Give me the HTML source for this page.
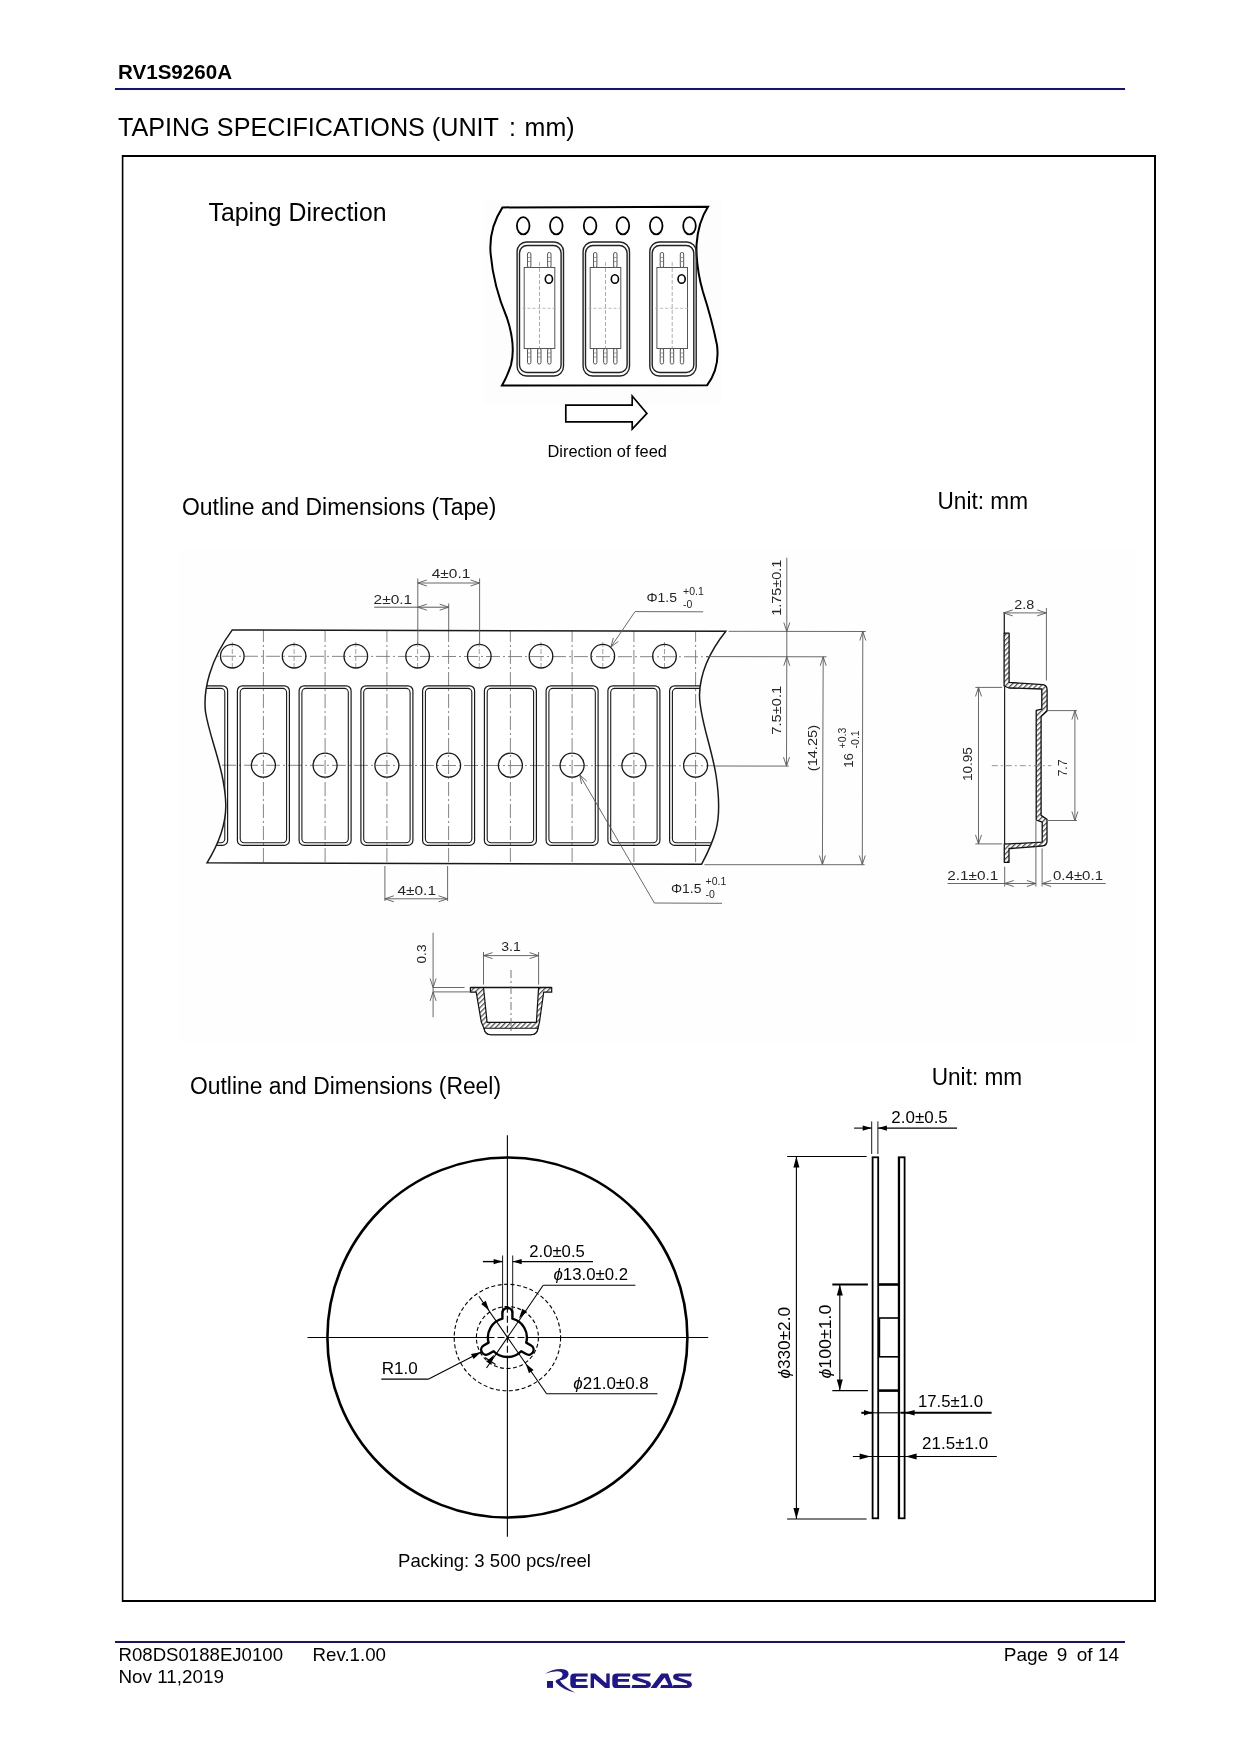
<!DOCTYPE html><html><head><meta charset="utf-8"><style>html,body{margin:0;padding:0;background:#fff;}body{width:1240px;height:1754px;position:relative;overflow:hidden;}svg{position:absolute;left:0;top:0;will-change:transform;}text{font-family:"Liberation Sans",sans-serif;}</style></head><body>
<svg width="1240" height="1754" viewBox="0 0 1240 1754">
<defs>
<pattern id="hatch" patternUnits="userSpaceOnUse" width="3.6" height="3.6" patternTransform="rotate(45)"><rect width="3.6" height="3.6" fill="#fff"/><rect x="0" y="0" width="1.3" height="3.6" fill="#555"/></pattern>
</defs>
<text x="118.0" y="79.0" font-size="21" fill="#000" textLength="114.0" lengthAdjust="spacingAndGlyphs" font-weight="bold" >RV1S9260A</text>
<rect x="115" y="88" width="1010" height="2" fill="#14108c"/>
<text x="118.0" y="136.2" font-size="25" fill="#000" textLength="381.0" lengthAdjust="spacingAndGlyphs" >TAPING SPECIFICATIONS (UNIT</text>
<text x="509.0" y="136.2" font-size="25" fill="#000" >:</text>
<text x="524.6" y="136.2" font-size="25" fill="#000" textLength="50.0" lengthAdjust="spacingAndGlyphs" >mm)</text>
<rect x="122.6" y="156" width="1032.4" height="1445" fill="none" stroke="#000" stroke-width="1.6"/>
<rect x="122" y="155" width="1034" height="2" fill="#000"/>
<rect x="122" y="1600" width="1034" height="2" fill="#000"/>
<rect x="1154" y="155" width="2" height="1447" fill="#000"/>
<rect x="115" y="1641" width="1010" height="2" fill="#14108c"/>
<text x="118.5" y="1661.0" font-size="19" fill="#000" textLength="164.5" lengthAdjust="spacingAndGlyphs" >R08DS0188EJ0100</text>
<text x="312.5" y="1661.0" font-size="19" fill="#000" textLength="73.5" lengthAdjust="spacingAndGlyphs" >Rev.1.00</text>
<text x="118.5" y="1682.8" font-size="19" fill="#000" textLength="105.5" lengthAdjust="spacingAndGlyphs" >Nov 11,2019</text>
<text x="1003.8" y="1661.0" font-size="19" fill="#000" >Page</text>
<text x="1056.8" y="1661.0" font-size="19" fill="#000" >9</text>
<text x="1076.8" y="1661.0" font-size="19" fill="#000" >of 14</text>
<text x="208.5" y="220.8" font-size="25" fill="#000" textLength="178.0" lengthAdjust="spacingAndGlyphs" >Taping Direction</text>
<text x="182.0" y="514.6" font-size="23" fill="#000" textLength="314.5" lengthAdjust="spacingAndGlyphs" >Outline and Dimensions (Tape)</text>
<text x="937.5" y="508.8" font-size="23" fill="#000" textLength="90.5" lengthAdjust="spacingAndGlyphs" >Unit: mm</text>
<text x="190.0" y="1093.5" font-size="23" fill="#000" textLength="311.0" lengthAdjust="spacingAndGlyphs" >Outline and Dimensions (Reel)</text>
<text x="931.7" y="1084.9" font-size="23" fill="#000" textLength="90.5" lengthAdjust="spacingAndGlyphs" >Unit: mm</text>
<text x="547.5" y="456.5" font-size="16.5" fill="#000" textLength="119.5" lengthAdjust="spacingAndGlyphs" >Direction of feed</text>
<text x="398.0" y="1566.8" font-size="18.5" fill="#000" textLength="193.0" lengthAdjust="spacingAndGlyphs" >Packing: 3 500 pcs/reel</text>
<rect x="484" y="201" width="238" height="202" fill="#fdfdfd"/>
<path d="M502.5,207.4 L708,206.7 Q698,222 696.5,245 Q696,268 703,292 Q712,320 717,345 Q720,368 707,385.3 L502,385.4 Q507,377 511,365 Q516,345 507,318 Q493,285 490.5,252 Q489,228 502.5,207.4 Z" fill="#fff" stroke="#000" stroke-width="2"/>
<ellipse cx="523.2" cy="225.8" rx="6.3" ry="8.6" fill="none" stroke="#000" stroke-width="1.8"/>
<ellipse cx="556.3" cy="225.8" rx="6.3" ry="8.6" fill="none" stroke="#000" stroke-width="1.8"/>
<ellipse cx="590.1" cy="225.8" rx="6.3" ry="8.6" fill="none" stroke="#000" stroke-width="1.8"/>
<ellipse cx="622.9" cy="225.8" rx="6.3" ry="8.6" fill="none" stroke="#000" stroke-width="1.8"/>
<ellipse cx="656.2" cy="225.8" rx="6.3" ry="8.6" fill="none" stroke="#000" stroke-width="1.8"/>
<ellipse cx="689.5" cy="225.8" rx="6.3" ry="8.6" fill="none" stroke="#000" stroke-width="1.8"/>
<rect x="517.1" y="242" width="46.4" height="134" rx="9.5" fill="none" stroke="#222" stroke-width="1.4"/>
<rect x="519.5" y="245.5" width="41.6" height="127" rx="7.5" fill="none" stroke="#222" stroke-width="1.4"/>
<rect x="524.2" y="267.5" width="30.6" height="81" fill="none" stroke="#555" stroke-width="1"/>
<line x1="539.5" y1="262" x2="539.5" y2="362" stroke="#999" stroke-width="0.8" stroke-dasharray="4,2"/>
<line x1="522.5" y1="308.3" x2="556.5" y2="308.3" stroke="#aaa" stroke-width="0.8" stroke-dasharray="3,2"/>
<rect x="527.5" y="252.5" width="3.4" height="15" rx="1.5" fill="#fff" stroke="#444" stroke-width="0.9"/>
<line x1="527.5" y1="257.5" x2="530.9" y2="257.5" stroke="#777" stroke-width="0.7"/>
<line x1="527.5" y1="261.5" x2="530.9" y2="261.5" stroke="#777" stroke-width="0.7"/>
<rect x="547.6" y="252.5" width="3.4" height="15" rx="1.5" fill="#fff" stroke="#444" stroke-width="0.9"/>
<line x1="547.6" y1="257.5" x2="551.0" y2="257.5" stroke="#777" stroke-width="0.7"/>
<line x1="547.6" y1="261.5" x2="551.0" y2="261.5" stroke="#777" stroke-width="0.7"/>
<rect x="527.5" y="348.5" width="3.4" height="15.5" rx="1.5" fill="#fff" stroke="#444" stroke-width="0.9"/>
<line x1="527.5" y1="353" x2="530.9" y2="353" stroke="#777" stroke-width="0.7"/>
<line x1="527.5" y1="357" x2="530.9" y2="357" stroke="#777" stroke-width="0.7"/>
<rect x="537.6" y="348.5" width="3.4" height="15.5" rx="1.5" fill="#fff" stroke="#444" stroke-width="0.9"/>
<line x1="537.6" y1="353" x2="541.0" y2="353" stroke="#777" stroke-width="0.7"/>
<line x1="537.6" y1="357" x2="541.0" y2="357" stroke="#777" stroke-width="0.7"/>
<rect x="547.6" y="348.5" width="3.4" height="15.5" rx="1.5" fill="#fff" stroke="#444" stroke-width="0.9"/>
<line x1="547.6" y1="353" x2="551.0" y2="353" stroke="#777" stroke-width="0.7"/>
<line x1="547.6" y1="357" x2="551.0" y2="357" stroke="#777" stroke-width="0.7"/>
<ellipse cx="548.9" cy="279" rx="3.6" ry="4.3" fill="none" stroke="#000" stroke-width="1.6"/>
<rect x="583.1" y="242" width="46.4" height="134" rx="9.5" fill="none" stroke="#222" stroke-width="1.4"/>
<rect x="585.5" y="245.5" width="41.6" height="127" rx="7.5" fill="none" stroke="#222" stroke-width="1.4"/>
<rect x="590.2" y="267.5" width="30.6" height="81" fill="none" stroke="#555" stroke-width="1"/>
<line x1="605.5" y1="262" x2="605.5" y2="362" stroke="#999" stroke-width="0.8" stroke-dasharray="4,2"/>
<line x1="588.5" y1="308.3" x2="622.5" y2="308.3" stroke="#aaa" stroke-width="0.8" stroke-dasharray="3,2"/>
<rect x="593.5" y="252.5" width="3.4" height="15" rx="1.5" fill="#fff" stroke="#444" stroke-width="0.9"/>
<line x1="593.5" y1="257.5" x2="596.9" y2="257.5" stroke="#777" stroke-width="0.7"/>
<line x1="593.5" y1="261.5" x2="596.9" y2="261.5" stroke="#777" stroke-width="0.7"/>
<rect x="613.6" y="252.5" width="3.4" height="15" rx="1.5" fill="#fff" stroke="#444" stroke-width="0.9"/>
<line x1="613.6" y1="257.5" x2="617.0" y2="257.5" stroke="#777" stroke-width="0.7"/>
<line x1="613.6" y1="261.5" x2="617.0" y2="261.5" stroke="#777" stroke-width="0.7"/>
<rect x="593.5" y="348.5" width="3.4" height="15.5" rx="1.5" fill="#fff" stroke="#444" stroke-width="0.9"/>
<line x1="593.5" y1="353" x2="596.9" y2="353" stroke="#777" stroke-width="0.7"/>
<line x1="593.5" y1="357" x2="596.9" y2="357" stroke="#777" stroke-width="0.7"/>
<rect x="603.6" y="348.5" width="3.4" height="15.5" rx="1.5" fill="#fff" stroke="#444" stroke-width="0.9"/>
<line x1="603.6" y1="353" x2="607.0" y2="353" stroke="#777" stroke-width="0.7"/>
<line x1="603.6" y1="357" x2="607.0" y2="357" stroke="#777" stroke-width="0.7"/>
<rect x="613.6" y="348.5" width="3.4" height="15.5" rx="1.5" fill="#fff" stroke="#444" stroke-width="0.9"/>
<line x1="613.6" y1="353" x2="617.0" y2="353" stroke="#777" stroke-width="0.7"/>
<line x1="613.6" y1="357" x2="617.0" y2="357" stroke="#777" stroke-width="0.7"/>
<ellipse cx="614.9" cy="279" rx="3.6" ry="4.3" fill="none" stroke="#000" stroke-width="1.6"/>
<rect x="649.8" y="242" width="46.4" height="134" rx="9.5" fill="none" stroke="#222" stroke-width="1.4"/>
<rect x="652.2" y="245.5" width="41.6" height="127" rx="7.5" fill="none" stroke="#222" stroke-width="1.4"/>
<rect x="656.9" y="267.5" width="30.6" height="81" fill="none" stroke="#555" stroke-width="1"/>
<line x1="672.2" y1="262" x2="672.2" y2="362" stroke="#999" stroke-width="0.8" stroke-dasharray="4,2"/>
<line x1="655.2" y1="308.3" x2="689.2" y2="308.3" stroke="#aaa" stroke-width="0.8" stroke-dasharray="3,2"/>
<rect x="660.2" y="252.5" width="3.4" height="15" rx="1.5" fill="#fff" stroke="#444" stroke-width="0.9"/>
<line x1="660.2" y1="257.5" x2="663.6" y2="257.5" stroke="#777" stroke-width="0.7"/>
<line x1="660.2" y1="261.5" x2="663.6" y2="261.5" stroke="#777" stroke-width="0.7"/>
<rect x="680.3" y="252.5" width="3.4" height="15" rx="1.5" fill="#fff" stroke="#444" stroke-width="0.9"/>
<line x1="680.3" y1="257.5" x2="683.7" y2="257.5" stroke="#777" stroke-width="0.7"/>
<line x1="680.3" y1="261.5" x2="683.7" y2="261.5" stroke="#777" stroke-width="0.7"/>
<rect x="660.2" y="348.5" width="3.4" height="15.5" rx="1.5" fill="#fff" stroke="#444" stroke-width="0.9"/>
<line x1="660.2" y1="353" x2="663.6" y2="353" stroke="#777" stroke-width="0.7"/>
<line x1="660.2" y1="357" x2="663.6" y2="357" stroke="#777" stroke-width="0.7"/>
<rect x="670.3" y="348.5" width="3.4" height="15.5" rx="1.5" fill="#fff" stroke="#444" stroke-width="0.9"/>
<line x1="670.3" y1="353" x2="673.7" y2="353" stroke="#777" stroke-width="0.7"/>
<line x1="670.3" y1="357" x2="673.7" y2="357" stroke="#777" stroke-width="0.7"/>
<rect x="680.3" y="348.5" width="3.4" height="15.5" rx="1.5" fill="#fff" stroke="#444" stroke-width="0.9"/>
<line x1="680.3" y1="353" x2="683.7" y2="353" stroke="#777" stroke-width="0.7"/>
<line x1="680.3" y1="357" x2="683.7" y2="357" stroke="#777" stroke-width="0.7"/>
<ellipse cx="681.6" cy="279" rx="3.6" ry="4.3" fill="none" stroke="#000" stroke-width="1.6"/>
<polygon points="565.8,405.1 632.2,405.1 632.2,396 646.9,413.4 632.2,429 632.2,421.8 565.8,421.8" fill="#fff" stroke="#000" stroke-width="1.7" stroke-linejoin="miter"/>
<rect x="179" y="548" width="957" height="495" fill="#fefefe"/>
<clipPath id="tapeclip"><path d="M232.3,629.9 L725.8,631.3 C711,650 700,672 699.5,695 C699.5,718 711,745 716,775 C719,795 720,815 716,830 C712,845 706,856 701.6,864.2 L207,862.8 C218,845 226,825 225.8,805 C225,770 210,740 205.5,712 C203,690 210,660 232.3,629.9 Z"/></clipPath>
<path d="M232.3,629.9 L725.8,631.3 C711,650 700,672 699.5,695 C699.5,718 711,745 716,775 C719,795 720,815 716,830 C712,845 706,856 701.6,864.2 L207,862.8 C218,845 226,825 225.8,805 C225,770 210,740 205.5,712 C203,690 210,660 232.3,629.9 Z" fill="#fff" stroke="none"/>
<g clip-path="url(#tapeclip)">
<line x1="201.6" y1="628" x2="201.6" y2="866" stroke="#777" stroke-width="0.9" stroke-dasharray="14,3,2,3"/>
<line x1="263.4" y1="628" x2="263.4" y2="866" stroke="#777" stroke-width="0.9" stroke-dasharray="14,3,2,3"/>
<line x1="325.1" y1="628" x2="325.1" y2="866" stroke="#777" stroke-width="0.9" stroke-dasharray="14,3,2,3"/>
<line x1="386.9" y1="628" x2="386.9" y2="866" stroke="#777" stroke-width="0.9" stroke-dasharray="14,3,2,3"/>
<line x1="448.6" y1="628" x2="448.6" y2="866" stroke="#777" stroke-width="0.9" stroke-dasharray="14,3,2,3"/>
<line x1="510.4" y1="628" x2="510.4" y2="866" stroke="#777" stroke-width="0.9" stroke-dasharray="14,3,2,3"/>
<line x1="572.1" y1="628" x2="572.1" y2="866" stroke="#777" stroke-width="0.9" stroke-dasharray="14,3,2,3"/>
<line x1="633.9" y1="628" x2="633.9" y2="866" stroke="#777" stroke-width="0.9" stroke-dasharray="14,3,2,3"/>
<line x1="695.6" y1="628" x2="695.6" y2="866" stroke="#777" stroke-width="0.9" stroke-dasharray="14,3,2,3"/>
<line x1="200" y1="656.2" x2="730" y2="656.8000000000001" stroke="#777" stroke-width="0.9" stroke-dasharray="14,3,2,3"/>
<line x1="200" y1="765.2" x2="730" y2="765.8000000000001" stroke="#777" stroke-width="0.9" stroke-dasharray="14,3,2,3"/>
<line x1="232.3" y1="642" x2="232.3" y2="670" stroke="#888" stroke-width="0.8" stroke-dasharray="5,2"/>
<line x1="294.1" y1="642" x2="294.1" y2="670" stroke="#888" stroke-width="0.8" stroke-dasharray="5,2"/>
<line x1="355.8" y1="642" x2="355.8" y2="670" stroke="#888" stroke-width="0.8" stroke-dasharray="5,2"/>
<line x1="417.6" y1="642" x2="417.6" y2="670" stroke="#888" stroke-width="0.8" stroke-dasharray="5,2"/>
<line x1="479.3" y1="642" x2="479.3" y2="670" stroke="#888" stroke-width="0.8" stroke-dasharray="5,2"/>
<line x1="541.0" y1="642" x2="541.0" y2="670" stroke="#888" stroke-width="0.8" stroke-dasharray="5,2"/>
<line x1="602.8" y1="642" x2="602.8" y2="670" stroke="#888" stroke-width="0.8" stroke-dasharray="5,2"/>
<line x1="664.5" y1="642" x2="664.5" y2="670" stroke="#888" stroke-width="0.8" stroke-dasharray="5,2"/>
<rect x="175.6" y="685.8" width="52" height="159.6" rx="5" fill="none" stroke="#1a1a1a" stroke-width="1.2"/>
<rect x="178.4" y="688.4" width="46.4" height="154.4" rx="4" fill="none" stroke="#1a1a1a" stroke-width="1.1"/>
<rect x="237.4" y="685.8" width="52" height="159.6" rx="5" fill="none" stroke="#1a1a1a" stroke-width="1.2"/>
<rect x="240.2" y="688.4" width="46.4" height="154.4" rx="4" fill="none" stroke="#1a1a1a" stroke-width="1.1"/>
<rect x="299.1" y="685.8" width="52" height="159.6" rx="5" fill="none" stroke="#1a1a1a" stroke-width="1.2"/>
<rect x="301.9" y="688.4" width="46.4" height="154.4" rx="4" fill="none" stroke="#1a1a1a" stroke-width="1.1"/>
<rect x="360.9" y="685.8" width="52" height="159.6" rx="5" fill="none" stroke="#1a1a1a" stroke-width="1.2"/>
<rect x="363.7" y="688.4" width="46.4" height="154.4" rx="4" fill="none" stroke="#1a1a1a" stroke-width="1.1"/>
<rect x="422.6" y="685.8" width="52" height="159.6" rx="5" fill="none" stroke="#1a1a1a" stroke-width="1.2"/>
<rect x="425.4" y="688.4" width="46.4" height="154.4" rx="4" fill="none" stroke="#1a1a1a" stroke-width="1.1"/>
<rect x="484.4" y="685.8" width="52" height="159.6" rx="5" fill="none" stroke="#1a1a1a" stroke-width="1.2"/>
<rect x="487.2" y="688.4" width="46.4" height="154.4" rx="4" fill="none" stroke="#1a1a1a" stroke-width="1.1"/>
<rect x="546.1" y="685.8" width="52" height="159.6" rx="5" fill="none" stroke="#1a1a1a" stroke-width="1.2"/>
<rect x="548.9" y="688.4" width="46.4" height="154.4" rx="4" fill="none" stroke="#1a1a1a" stroke-width="1.1"/>
<rect x="607.9" y="685.8" width="52" height="159.6" rx="5" fill="none" stroke="#1a1a1a" stroke-width="1.2"/>
<rect x="610.7" y="688.4" width="46.4" height="154.4" rx="4" fill="none" stroke="#1a1a1a" stroke-width="1.1"/>
<rect x="669.6" y="685.8" width="52" height="159.6" rx="5" fill="none" stroke="#1a1a1a" stroke-width="1.2"/>
<rect x="672.4" y="688.4" width="46.4" height="154.4" rx="4" fill="none" stroke="#1a1a1a" stroke-width="1.1"/>
<circle cx="201.6" cy="765.2" r="12" fill="none" stroke="#1a1a1a" stroke-width="1.3"/>
<circle cx="263.4" cy="765.2" r="12" fill="none" stroke="#1a1a1a" stroke-width="1.3"/>
<circle cx="325.1" cy="765.2" r="12" fill="none" stroke="#1a1a1a" stroke-width="1.3"/>
<circle cx="386.9" cy="765.2" r="12" fill="none" stroke="#1a1a1a" stroke-width="1.3"/>
<circle cx="448.6" cy="765.2" r="12" fill="none" stroke="#1a1a1a" stroke-width="1.3"/>
<circle cx="510.4" cy="765.2" r="12" fill="none" stroke="#1a1a1a" stroke-width="1.3"/>
<circle cx="572.1" cy="765.2" r="12" fill="none" stroke="#1a1a1a" stroke-width="1.3"/>
<circle cx="633.9" cy="765.2" r="12" fill="none" stroke="#1a1a1a" stroke-width="1.3"/>
<circle cx="695.6" cy="765.2" r="12" fill="none" stroke="#1a1a1a" stroke-width="1.3"/>
<circle cx="232.3" cy="656.2" r="11.8" fill="none" stroke="#1a1a1a" stroke-width="1.3"/>
<circle cx="294.1" cy="656.2" r="11.8" fill="none" stroke="#1a1a1a" stroke-width="1.3"/>
<circle cx="355.8" cy="656.2" r="11.8" fill="none" stroke="#1a1a1a" stroke-width="1.3"/>
<circle cx="417.6" cy="656.2" r="11.8" fill="none" stroke="#1a1a1a" stroke-width="1.3"/>
<circle cx="479.3" cy="656.2" r="11.8" fill="none" stroke="#1a1a1a" stroke-width="1.3"/>
<circle cx="541.0" cy="656.2" r="11.8" fill="none" stroke="#1a1a1a" stroke-width="1.3"/>
<circle cx="602.8" cy="656.2" r="11.8" fill="none" stroke="#1a1a1a" stroke-width="1.3"/>
<circle cx="664.5" cy="656.2" r="11.8" fill="none" stroke="#1a1a1a" stroke-width="1.3"/>
</g>
<path d="M232.3,629.9 L725.8,631.3 C711,650 700,672 699.5,695 C699.5,718 711,745 716,775 C719,795 720,815 716,830 C712,845 706,856 701.6,864.2 L207,862.8 C218,845 226,825 225.8,805 C225,770 210,740 205.5,712 C203,690 210,660 232.3,629.9 Z" fill="none" stroke="#1a1a1a" stroke-width="1.5"/>
<line x1="417.8" y1="578.5" x2="417.8" y2="645.0" stroke="#585858" stroke-width="0.9" />
<line x1="479.6" y1="578.5" x2="479.6" y2="645.0" stroke="#585858" stroke-width="0.9" />
<line x1="417.8" y1="583.0" x2="479.6" y2="583.0" stroke="#585858" stroke-width="0.9" />
<polyline points="426.8,580.0 417.8,583.0 426.8,586.0" fill="none" stroke="#585858" stroke-width="0.9"/>
<polyline points="470.6,586.0 479.6,583.0 470.6,580.0" fill="none" stroke="#585858" stroke-width="0.9"/>
<text x="431.8" y="578.2" font-size="12.5" fill="#262626" textLength="38.5" lengthAdjust="spacingAndGlyphs" >4±0.1</text>
<line x1="448.7" y1="603.5" x2="448.7" y2="630.0" stroke="#585858" stroke-width="0.9" />
<line x1="374.2" y1="607.2" x2="448.7" y2="607.2" stroke="#585858" stroke-width="1.0" />
<polyline points="426.8,604.2 417.8,607.2 426.8,610.2" fill="none" stroke="#585858" stroke-width="0.9"/>
<polyline points="439.7,610.2 448.7,607.2 439.7,604.2" fill="none" stroke="#585858" stroke-width="0.9"/>
<text x="373.6" y="603.6" font-size="12.5" fill="#262626" textLength="38.5" lengthAdjust="spacingAndGlyphs" >2±0.1</text>
<line x1="635.0" y1="611.6" x2="703.2" y2="611.8" stroke="#585858" stroke-width="0.9" />
<line x1="635.0" y1="611.6" x2="610.8" y2="647.1" stroke="#585858" stroke-width="0.9" />
<polyline points="613.4,638.0 610.8,647.1 618.3,641.4" fill="none" stroke="#585858" stroke-width="0.9"/>
<text x="646.5" y="602.3" font-size="12.5" fill="#262626" textLength="30.5" lengthAdjust="spacingAndGlyphs" >Φ1.5</text>
<text x="683.0" y="594.7" font-size="10.5" fill="#262626" >+0.1</text>
<text x="683.0" y="607.6" font-size="10.5" fill="#262626" >-0</text>
<line x1="728.5" y1="631.3" x2="865.8" y2="631.5" stroke="#585858" stroke-width="0.9" />
<line x1="706.0" y1="656.6" x2="826.5" y2="656.8" stroke="#585858" stroke-width="0.9" />
<line x1="714.8" y1="766.0" x2="788.8" y2="766.1" stroke="#585858" stroke-width="0.9" />
<line x1="704.4" y1="864.7" x2="864.6" y2="864.7" stroke="#585858" stroke-width="0.9" />
<line x1="786.8" y1="557.7" x2="786.8" y2="656.8" stroke="#585858" stroke-width="0.9" />
<polyline points="783.8,622.5 786.8,631.5 789.8,622.5" fill="none" stroke="#585858" stroke-width="0.9"/>
<line x1="786.8" y1="656.8" x2="786.5" y2="766.1" stroke="#585858" stroke-width="0.9" />
<polyline points="789.8,665.8 786.8,656.8 783.8,665.8" fill="none" stroke="#585858" stroke-width="0.9"/>
<polyline points="783.5,757.1 786.5,766.1 789.5,757.1" fill="none" stroke="#585858" stroke-width="0.9"/>
<line x1="823.2" y1="656.8" x2="822.4" y2="864.5" stroke="#585858" stroke-width="0.9" />
<polyline points="826.2,665.8 823.2,656.8 820.2,665.8" fill="none" stroke="#585858" stroke-width="0.9"/>
<polyline points="819.4,855.5 822.4,864.5 825.4,855.5" fill="none" stroke="#585858" stroke-width="0.9"/>
<line x1="862.8" y1="631.5" x2="862.3" y2="864.5" stroke="#585858" stroke-width="0.9" />
<polyline points="865.8,640.5 862.8,631.5 859.8,640.5" fill="none" stroke="#585858" stroke-width="0.9"/>
<polyline points="859.3,855.5 862.3,864.5 865.3,855.5" fill="none" stroke="#585858" stroke-width="0.9"/>
<text x="781.5" y="615.8" font-size="13" fill="#262626" textLength="56.0" lengthAdjust="spacingAndGlyphs" transform="rotate(-90 781.5 615.8)" >1.75±0.1</text>
<text x="780.6" y="734.7" font-size="13" fill="#262626" textLength="49.0" lengthAdjust="spacingAndGlyphs" transform="rotate(-90 780.6 734.7)" >7.5±0.1</text>
<text x="817.5" y="771.2" font-size="13" fill="#262626" textLength="46.2" lengthAdjust="spacingAndGlyphs" transform="rotate(-90 817.5 771.2)" >(14.25)</text>
<text x="853.0" y="767.8" font-size="13" fill="#262626" textLength="14.8" lengthAdjust="spacingAndGlyphs" transform="rotate(-90 853.0 767.8)" >16</text>
<text x="846.2" y="748.4" font-size="10.5" fill="#262626" transform="rotate(-90 846.2 748.4)" >+0.3</text>
<text x="859.3" y="748.4" font-size="10.5" fill="#262626" transform="rotate(-90 859.3 748.4)" >-0.1</text>
<line x1="384.9" y1="866.0" x2="384.9" y2="901.0" stroke="#585858" stroke-width="0.9" />
<line x1="447.6" y1="866.0" x2="447.6" y2="901.0" stroke="#585858" stroke-width="0.9" />
<line x1="384.9" y1="898.8" x2="447.6" y2="898.8" stroke="#585858" stroke-width="0.9" />
<polyline points="393.9,895.8 384.9,898.8 393.9,901.8" fill="none" stroke="#585858" stroke-width="0.9"/>
<polyline points="438.6,901.8 447.6,898.8 438.6,895.8" fill="none" stroke="#585858" stroke-width="0.9"/>
<text x="397.5" y="894.8" font-size="12.5" fill="#262626" textLength="38.5" lengthAdjust="spacingAndGlyphs" >4±0.1</text>
<line x1="579.7" y1="774.8" x2="654.4" y2="903.0" stroke="#585858" stroke-width="0.9" />
<line x1="654.4" y1="903.0" x2="722.0" y2="903.3" stroke="#585858" stroke-width="0.9" />
<polyline points="586.8,781.1 579.7,774.8 581.6,784.1" fill="none" stroke="#585858" stroke-width="0.9"/>
<text x="671.0" y="893.4" font-size="12.5" fill="#262626" textLength="30.5" lengthAdjust="spacingAndGlyphs" >Φ1.5</text>
<text x="705.6" y="885.3" font-size="10.5" fill="#262626" >+0.1</text>
<text x="705.6" y="898.2" font-size="10.5" fill="#262626" >-0</text>
<line x1="1004.3" y1="612.0" x2="1004.3" y2="633.5" stroke="#222" stroke-width="1.3" />
<path d="M1004.1,633.2 L1009.1,633.2 L1009.1,682.4 L1042.7,684.6 Q1047.1,685 1047.1,690 L1047.1,711 L1041.1,716.6 L1041.1,815.4 L1047,819.4 L1047,841 Q1047,846 1042,846 L1010.5,848.5 L1009,848.5 L1009,862.4 L1004.3,862.4 L1004.3,843.9 L1008.8,843.9 L1042.2,842.2 L1042.2,822.2 L1036.2,820 L1036.2,710.3 L1041.8,709.1 L1041.8,689 L1009,688 L1004.1,686 Z" fill="url(#hatch)" stroke="#111" stroke-width="1.3" stroke-linejoin="round"/>
<line x1="1004.6" y1="686.0" x2="1004.6" y2="845.0" stroke="#222" stroke-width="1.2" />
<line x1="1003.7" y1="612.9" x2="1046.2" y2="612.9" stroke="#585858" stroke-width="0.9" />
<polyline points="1012.7,609.9 1003.7,612.9 1012.7,615.9" fill="none" stroke="#585858" stroke-width="0.9"/>
<polyline points="1037.2,615.9 1046.2,612.9 1037.2,609.9" fill="none" stroke="#585858" stroke-width="0.9"/>
<line x1="1046.4" y1="608.0" x2="1046.4" y2="680.5" stroke="#585858" stroke-width="0.9" />
<text x="1014.3" y="608.7" font-size="13" fill="#262626" textLength="20.0" lengthAdjust="spacingAndGlyphs" >2.8</text>
<line x1="975.4" y1="687.4" x2="1002.2" y2="687.4" stroke="#585858" stroke-width="0.9" />
<line x1="975.4" y1="843.9" x2="1002.2" y2="843.9" stroke="#585858" stroke-width="0.9" />
<line x1="978.5" y1="687.4" x2="978.5" y2="843.9" stroke="#585858" stroke-width="0.9" />
<polyline points="981.5,696.4 978.5,687.4 975.5,696.4" fill="none" stroke="#585858" stroke-width="0.9"/>
<polyline points="975.5,834.9 978.5,843.9 981.5,834.9" fill="none" stroke="#585858" stroke-width="0.9"/>
<text x="972.0" y="781.1" font-size="13" fill="#262626" textLength="34.0" lengthAdjust="spacingAndGlyphs" transform="rotate(-90 972.0 781.1)" >10.95</text>
<line x1="1048.0" y1="710.6" x2="1077.0" y2="710.6" stroke="#585858" stroke-width="0.9" />
<line x1="1048.0" y1="820.5" x2="1077.0" y2="820.5" stroke="#585858" stroke-width="0.9" />
<line x1="1074.9" y1="710.6" x2="1074.9" y2="820.5" stroke="#585858" stroke-width="0.9" />
<polyline points="1077.9,719.6 1074.9,710.6 1071.9,719.6" fill="none" stroke="#585858" stroke-width="0.9"/>
<polyline points="1071.9,811.5 1074.9,820.5 1077.9,811.5" fill="none" stroke="#585858" stroke-width="0.9"/>
<text x="1067.0" y="776.5" font-size="13" fill="#262626" textLength="17.0" lengthAdjust="spacingAndGlyphs" transform="rotate(-90 1067.0 776.5)" >7.7</text>
<line x1="991.8" y1="765.7" x2="1051.3" y2="765.7" stroke="#888" stroke-width="0.9" stroke-dasharray="6,3,2,3"/>
<line x1="1004.7" y1="866.7" x2="1004.7" y2="886.5" stroke="#585858" stroke-width="0.9" />
<line x1="1035.9" y1="821.0" x2="1035.9" y2="886.5" stroke="#585858" stroke-width="0.9" />
<line x1="1042.1" y1="848.5" x2="1042.1" y2="886.5" stroke="#585858" stroke-width="0.9" />
<line x1="947.5" y1="883.5" x2="1035.9" y2="883.5" stroke="#585858" stroke-width="0.9" />
<polyline points="1013.7,880.5 1004.7,883.5 1013.7,886.5" fill="none" stroke="#585858" stroke-width="0.9"/>
<polyline points="1026.9,886.5 1035.9,883.5 1026.9,880.5" fill="none" stroke="#585858" stroke-width="0.9"/>
<line x1="1042.1" y1="883.5" x2="1105.7" y2="883.5" stroke="#585858" stroke-width="0.9" />
<polyline points="1051.1,880.5 1042.1,883.5 1051.1,886.5" fill="none" stroke="#585858" stroke-width="0.9"/>
<text x="947.3" y="879.6" font-size="13" fill="#262626" textLength="51.0" lengthAdjust="spacingAndGlyphs" >2.1±0.1</text>
<text x="1053.0" y="879.6" font-size="13" fill="#262626" textLength="50.0" lengthAdjust="spacingAndGlyphs" >0.4±0.1</text>
<line x1="433.1" y1="932.8" x2="433.1" y2="1017.3" stroke="#585858" stroke-width="0.9" />
<polyline points="430.1,978.5 433.1,987.5 436.1,978.5" fill="none" stroke="#585858" stroke-width="0.9"/>
<polyline points="436.1,1000.9 433.1,991.9 430.1,1000.9" fill="none" stroke="#585858" stroke-width="0.9"/>
<line x1="433.1" y1="987.5" x2="464.6" y2="987.5" stroke="#585858" stroke-width="0.9" />
<line x1="433.1" y1="991.9" x2="469.7" y2="991.9" stroke="#585858" stroke-width="0.9" />
<text x="426.0" y="963.5" font-size="13" fill="#262626" textLength="19.0" lengthAdjust="spacingAndGlyphs" transform="rotate(-90 426.0 963.5)" >0.3</text>
<line x1="483.5" y1="952.0" x2="483.5" y2="984.6" stroke="#585858" stroke-width="0.9" />
<line x1="538.6" y1="952.0" x2="538.6" y2="984.6" stroke="#585858" stroke-width="0.9" />
<line x1="483.5" y1="955.6" x2="538.6" y2="955.6" stroke="#585858" stroke-width="0.9" />
<polyline points="492.5,952.6 483.5,955.6 492.5,958.6" fill="none" stroke="#585858" stroke-width="0.9"/>
<polyline points="529.6,958.6 538.6,955.6 529.6,952.6" fill="none" stroke="#585858" stroke-width="0.9"/>
<text x="501.2" y="950.9" font-size="13" fill="#262626" textLength="19.5" lengthAdjust="spacingAndGlyphs" >3.1</text>
<path d="M470.4,987.5 L551.7,987.5 L551.7,992.1 L543.7,992.1 L539.5,1022 L538,1028.3 Q537,1034.7 531,1034.7 L491,1034.7 Q485,1034.7 484,1028.3 L481.3,1022 L476.2,992.1 L470.4,992.1 Z" fill="url(#hatch)" stroke="#111" stroke-width="1.2"/>
<path d="M483.5,987.5 L538.6,987.5 L536.4,1022.3 L487.1,1022.3 Z" fill="#fff" stroke="#111" stroke-width="1.2"/>
<path d="M484,1028.2 L538,1028.2 Q537,1034.7 531,1034.7 L491,1034.7 Q485,1034.7 484,1028.2 Z" fill="#fff" stroke="#111" stroke-width="1.1"/>
<line x1="470.4" y1="987.5" x2="551.7" y2="987.5" stroke="#111" stroke-width="1.5" />
<line x1="511.0" y1="970.0" x2="511.0" y2="1034.0" stroke="#666" stroke-width="0.9" stroke-dasharray="8,3,2,3"/>
<circle cx="507.4" cy="1337.5" r="180" fill="none" stroke="#000" stroke-width="2.6"/>
<line x1="307.5" y1="1337.5" x2="708.2" y2="1337.5" stroke="#000" stroke-width="1.1" />
<line x1="507.4" y1="1135.2" x2="507.4" y2="1536.7" stroke="#000" stroke-width="1.1" />
<circle cx="507.4" cy="1337.5" r="53.2" fill="none" stroke="#000" stroke-width="1.1" stroke-dasharray="4,2.5"/>
<circle cx="507.4" cy="1337.5" r="31" fill="none" stroke="#000" stroke-width="1.1" stroke-dasharray="4,2.5"/>
<path d="M512.40,1318.65 L512.40,1313.00 A5.0,5.0 0 0 0 502.40,1313.00 L502.40,1318.65 A19.5,19.5 0 0 0 488.58,1342.59 L488.58,1342.59 L483.68,1345.42 A5.0,5.0 0 0 0 488.68,1354.08 L493.58,1351.25 A19.5,19.5 0 0 0 521.22,1351.25 L521.22,1351.25 L526.12,1354.08 A5.0,5.0 0 0 0 531.12,1345.42 L526.22,1342.59 A19.5,19.5 0 0 0 512.40,1318.65 Z" fill="#fff" stroke="#000" stroke-width="2.4" stroke-linejoin="round"/>
<clipPath id="hubclip"><path d="M512.40,1318.65 L512.40,1313.00 A5.0,5.0 0 0 0 502.40,1313.00 L502.40,1318.65 A19.5,19.5 0 0 0 488.58,1342.59 L488.58,1342.59 L483.68,1345.42 A5.0,5.0 0 0 0 488.68,1354.08 L493.58,1351.25 A19.5,19.5 0 0 0 521.22,1351.25 L521.22,1351.25 L526.12,1354.08 A5.0,5.0 0 0 0 531.12,1345.42 L526.22,1342.59 A19.5,19.5 0 0 0 512.40,1318.65 Z"/></clipPath>
<g clip-path="url(#hubclip)">
<line x1="307.5" y1="1337.5" x2="708.2" y2="1337.5" stroke="#000" stroke-width="1.1" stroke-dasharray="7,3"/>
<line x1="507.4" y1="1135.7" x2="507.4" y2="1536.7" stroke="#000" stroke-width="1.1" stroke-dasharray="7,3"/>
</g>
<line x1="502.6" y1="1255.5" x2="502.6" y2="1313.0" stroke="#000" stroke-width="0.9" />
<line x1="512.7" y1="1255.5" x2="512.7" y2="1313.0" stroke="#000" stroke-width="0.9" />
<line x1="482.9" y1="1261.6" x2="502.6" y2="1261.6" stroke="#000" stroke-width="1.4" />
<polygon points="493.6,1264.2 502.6,1261.6 493.6,1259.0" fill="#000"/>
<line x1="512.7" y1="1261.6" x2="593.0" y2="1261.6" stroke="#000" stroke-width="1.4" />
<polygon points="521.7,1259.0 512.7,1261.6 521.7,1264.2" fill="#000"/>
<text x="529.3" y="1257.2" font-size="16.5" fill="#000" textLength="55.5" lengthAdjust="spacingAndGlyphs" >2.0±0.5</text>
<text x="553.5" y="1280.2" font-size="16.5" fill="#000" textLength="74.5" lengthAdjust="spacingAndGlyphs" ><tspan font-style="italic">ϕ</tspan>13.0±0.2</text>
<line x1="543.2" y1="1285.3" x2="635.4" y2="1285.3" stroke="#000" stroke-width="1.1" />
<line x1="543.2" y1="1285.3" x2="486.5" y2="1368.0" stroke="#000" stroke-width="1.1" />
<polygon points="522.3,1308.7 519.0,1318.5 527.0,1311.8" fill="#000"/>
<polygon points="490.9,1364.5 494.2,1354.7 486.2,1361.4" fill="#000"/>
<line x1="485.0" y1="1357.5" x2="495.5" y2="1364.5" stroke="#000" stroke-width="1.1" />
<line x1="478.9" y1="1296.2" x2="546.6" y2="1393.7" stroke="#000" stroke-width="1.1" />
<polygon points="481.2,1303.9 489.2,1310.5 485.8,1300.7" fill="#000"/>
<polygon points="533.6,1370.1 525.6,1363.5 529.0,1373.3" fill="#000"/>
<line x1="546.6" y1="1393.7" x2="657.4" y2="1393.7" stroke="#000" stroke-width="1.1" />
<text x="573.3" y="1388.6" font-size="16.5" fill="#000" textLength="75.5" lengthAdjust="spacingAndGlyphs" ><tspan font-style="italic">ϕ</tspan>21.0±0.8</text>
<text x="381.8" y="1374.0" font-size="16.5" fill="#000" textLength="36.0" lengthAdjust="spacingAndGlyphs" >R1.0</text>
<line x1="381.3" y1="1379.1" x2="428.7" y2="1379.1" stroke="#000" stroke-width="1.1" />
<line x1="428.7" y1="1379.1" x2="481.2" y2="1352.0" stroke="#000" stroke-width="1.1" />
<polygon points="473.6,1359.1 481.2,1352.0 471.0,1354.1" fill="#000"/>
<rect x="872.6" y="1157.3" width="5.6" height="361" fill="none" stroke="#000" stroke-width="1.8"/>
<rect x="898.8" y="1157.3" width="5.8" height="361" fill="none" stroke="#000" stroke-width="1.8"/>
<rect x="897.9" y="1157" width="2.2" height="362" fill="#000"/>
<line x1="878.2" y1="1284.5" x2="898.7" y2="1284.5" stroke="#000" stroke-width="2.6" />
<line x1="878.2" y1="1318.0" x2="898.7" y2="1318.0" stroke="#000" stroke-width="1.6" />
<line x1="878.2" y1="1356.8" x2="898.7" y2="1356.8" stroke="#000" stroke-width="1.6" />
<line x1="878.2" y1="1390.6" x2="898.7" y2="1390.6" stroke="#000" stroke-width="2.6" />
<line x1="879.3" y1="1318.0" x2="879.3" y2="1357.0" stroke="#000" stroke-width="1.8" />
<line x1="871.7" y1="1121.4" x2="871.7" y2="1154.0" stroke="#000" stroke-width="0.9" />
<line x1="877.9" y1="1121.4" x2="877.9" y2="1154.0" stroke="#000" stroke-width="0.9" />
<line x1="854.1" y1="1128.1" x2="871.7" y2="1128.1" stroke="#000" stroke-width="1.1" />
<polygon points="862.7,1130.7 871.7,1128.1 862.7,1125.5" fill="#000"/>
<line x1="877.9" y1="1128.1" x2="957.0" y2="1128.1" stroke="#000" stroke-width="1.1" />
<polygon points="886.9,1125.5 877.9,1128.1 886.9,1130.7" fill="#000"/>
<text x="891.3" y="1122.6" font-size="16.5" fill="#000" textLength="56.5" lengthAdjust="spacingAndGlyphs" >2.0±0.5</text>
<line x1="787.1" y1="1156.5" x2="866.6" y2="1156.5" stroke="#000" stroke-width="1.1" />
<line x1="787.1" y1="1519.0" x2="866.6" y2="1519.0" stroke="#000" stroke-width="1.1" />
<line x1="796.4" y1="1156.5" x2="796.4" y2="1519.0" stroke="#000" stroke-width="1.1" />
<polygon points="799.4,1167.5 796.4,1156.5 793.4,1167.5" fill="#000"/>
<polygon points="793.4,1508.0 796.4,1519.0 799.4,1508.0" fill="#000"/>
<text x="789.6" y="1378.6" font-size="16.5" fill="#000" textLength="71.6" lengthAdjust="spacingAndGlyphs" transform="rotate(-90 789.6 1378.6)" ><tspan font-style="italic">ϕ</tspan>330±2.0</text>
<line x1="832.3" y1="1284.5" x2="867.9" y2="1284.5" stroke="#000" stroke-width="2.2" />
<line x1="832.3" y1="1390.6" x2="867.9" y2="1390.6" stroke="#000" stroke-width="1.1" />
<line x1="839.8" y1="1284.5" x2="839.8" y2="1390.6" stroke="#000" stroke-width="1.1" />
<polygon points="842.8,1295.5 839.8,1284.5 836.8,1295.5" fill="#000"/>
<polygon points="836.8,1379.6 839.8,1390.6 842.8,1379.6" fill="#000"/>
<text x="831.5" y="1378.6" font-size="16.5" fill="#000" textLength="74.0" lengthAdjust="spacingAndGlyphs" transform="rotate(-90 831.5 1378.6)" ><tspan font-style="italic">ϕ</tspan>100±1.0</text>
<line x1="861.3" y1="1412.8" x2="872.0" y2="1412.8" stroke="#000" stroke-width="2" />
<polygon points="864.0,1415.6 872.0,1412.8 864.0,1410.0" fill="#000"/>
<line x1="872.0" y1="1412.8" x2="900.6" y2="1412.8" stroke="#000" stroke-width="1.1" />
<line x1="900.6" y1="1412.8" x2="991.6" y2="1412.8" stroke="#000" stroke-width="2" />
<polygon points="914.6,1410.0 904.6,1412.8 914.6,1415.6" fill="#000"/>
<text x="918.0" y="1406.5" font-size="16.5" fill="#000" textLength="65.0" lengthAdjust="spacingAndGlyphs" >17.5±1.0</text>
<line x1="852.9" y1="1456.5" x2="996.8" y2="1456.5" stroke="#000" stroke-width="1.1" />
<polygon points="859.6,1459.5 870.6,1456.5 859.6,1453.5" fill="#000"/>
<polygon points="916.6,1453.5 905.6,1456.5 916.6,1459.5" fill="#000"/>
<text x="922.1" y="1449.4" font-size="16.5" fill="#000" textLength="66.0" lengthAdjust="spacingAndGlyphs" >21.5±1.0</text>
<g fill="#1e168c">
<rect x="547" y="1681" width="6" height="6.9"/>
<path d="M545.2,1673.8 Q552,1669 561,1669 Q568.8,1669.3 568.6,1674.2 Q568.3,1678.8 561,1680.2 L559.8,1680.5 Q563.5,1686.5 575.4,1692.8 Q562,1689.5 556.3,1682.8 Q554.8,1681 556.8,1679.8 Q562.8,1677.8 562.6,1674.3 Q562.2,1671.3 557,1671.2 Q551,1671.2 545.2,1673.8 Z"/>
<path d="M587.7,1673.6 L574.5,1673.6 Q570.3,1673.6 570.3,1677.8 L570.3,1683.9 Q570.3,1688.1 574.5,1688.1 L587.7,1688.1 L587.7,1685.1 L577,1685.1 Q575.8,1685.1 575.8,1683.9 L575.8,1681.8 L586.6,1681.8 L586.6,1679 L575.8,1679 L575.8,1677.8 Q575.8,1676.6 577,1676.6 L587.7,1676.6 Z"/>
<path d="M590.6,1688.1 L590.6,1673.6 L595.2,1673.6 L606.3,1683.2 L606.3,1673.6 L609.7,1673.6 L609.7,1688.1 L605.1,1688.1 L594,1678.6 L594,1688.1 Z"/>
<path d="M630.2,1673.6 L617,1673.6 Q612.3,1673.6 612.3,1677.8 L612.3,1683.9 Q612.3,1688.1 616.5,1688.1 L630.2,1688.1 L630.2,1685.1 L619,1685.1 Q617.8,1685.1 617.8,1683.9 L617.8,1681.8 L629,1681.8 L629,1679 L617.8,1679 L617.8,1677.8 Q617.8,1676.6 619,1676.6 L630.2,1676.6 Z"/>
<path d="M650.8000000000001,1673.6 L637.1,1673.6 Q632.1,1673.6 632.1,1677 Q632.1,1679.2 635.3000000000001,1680.2 L645.7,1683.6 Q646.7,1684.1 645.9,1685.1 L632.4,1685.1 L631.5,1688.1 L646.1,1688.1 Q650.9,1688.1 650.9,1684.5 Q650.9,1682 647.9,1681 L637.7,1677.6 Q636.9,1677.1 637.9,1676.6 L649.7,1676.6 Z"/>
<path d="M691.8000000000001,1673.6 L678.1,1673.6 Q673.1,1673.6 673.1,1677 Q673.1,1679.2 676.3000000000001,1680.2 L686.7,1683.6 Q687.7,1684.1 686.9,1685.1 L673.4,1685.1 L672.5,1688.1 L687.1,1688.1 Q691.9,1688.1 691.9,1684.5 Q691.9,1682 688.9,1681 L678.7,1677.6 Q677.9,1677.1 678.9,1676.6 L690.7,1676.6 Z"/>
<path d="M650.5,1688.1 L661.3,1673.6 L668,1673.6 L673.4,1688.1 L660.2,1688.1 L661.2,1685.1 L668.4,1685.1 L664.6,1677.6 L656.4,1688.1 Z"/>
</g>
</svg></body></html>
